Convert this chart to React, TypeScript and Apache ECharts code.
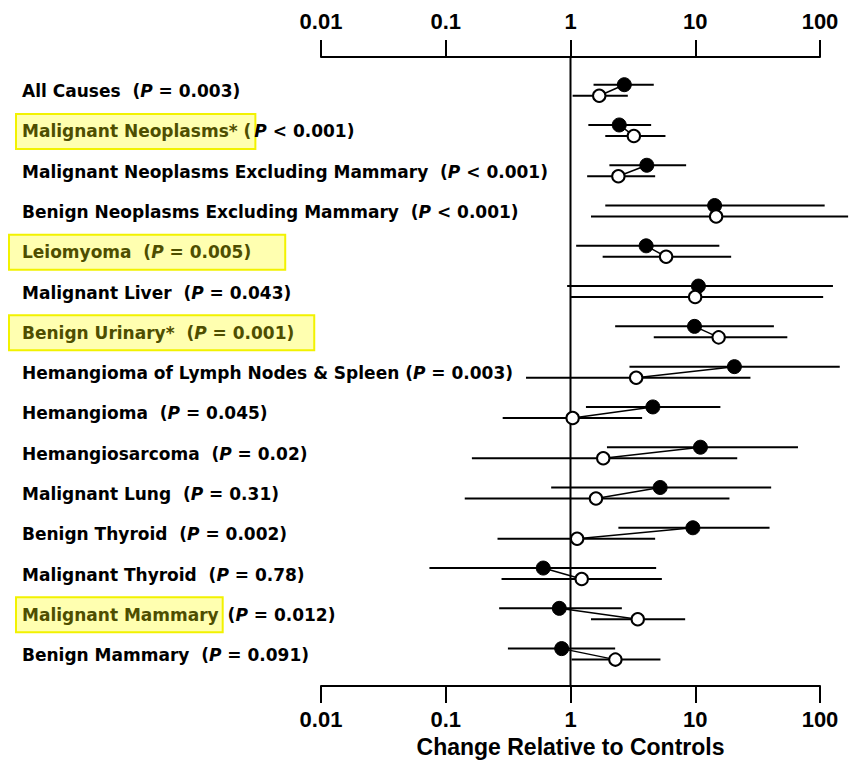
import React, { useEffect, useRef } from 'react';
import * as echarts from 'echarts';

const categories = [
  'All Causes',
  'Malignant Neoplasms*',
  'Malignant Neoplasms Excluding Mammary',
  'Benign Neoplasms Excluding Mammary',
  'Leiomyoma',
  'Malignant Liver',
  'Benign Urinary*',
  'Hemangioma of Lymph Nodes & Spleen',
  'Hemangioma',
  'Hemangiosarcoma',
  'Malignant Lung',
  'Benign Thyroid',
  'Malignant Thyroid',
  'Malignant Mammary',
  'Benign Mammary',
];
const pValues = ['= 0.003', '< 0.001', '< 0.001', '< 0.001', '= 0.005', '= 0.043', '= 0.001', '= 0.003', '= 0.045', '= 0.02', '= 0.31', '= 0.002', '= 0.78', '= 0.012', '= 0.091'];
// highlight: 0 none, 1 name only, 2 whole label
const highlight = [0, 1, 0, 0, 2, 0, 2, 0, 0, 0, 0, 0, 0, 1, 0];

const filledEst = [2.70, 2.46, 4.09, 14.3, 4.04, 10.6, 9.86, 20.6, 4.57, 11.0, 5.23, 9.57, 0.605, 0.813, 0.85];
const filledLow = [1.53, 1.39, 2.05, 1.90, 1.11, 0.94, 2.28, 2.97, 1.33, 1.96, 0.70, 2.42, 0.074, 0.268, 0.315];
const filledHigh = [4.65, 4.43, 8.45, 109, 15.6, 127, 42.7, 144, 15.9, 66.6, 40.6, 39.4, 4.86, 2.58, 2.28];
const openEst = [1.70, 3.22, 2.42, 14.7, 5.84, 9.98, 15.4, 3.36, 1.04, 1.83, 1.60, 1.13, 1.23, 3.46, 2.29];
const openLow = [1.04, 1.90, 1.36, 1.46, 1.81, 1.01, 4.65, 0.44, 0.286, 0.162, 0.142, 0.26, 0.28, 1.46, 1.02];
const openHigh = [2.88, 5.77, 4.77, 168, 19.4, 106, 54.7, 27.7, 3.75, 21.7, 18.8, 4.77, 5.40, 8.30, 5.26];

const axisTitle = 'Change Relative to Controls';

const Y_MIN = -0.824;
const Y_MAX = 14.794;

const LABEL_FONT = 'DejaVu Sans';
const HL_FILL = '#ffffb0';
const HL_BORDER = '#f2f200';
const HL_TEXT = '#4e4e00';

export default function App() {
  const ref = useRef<HTMLDivElement>(null);

  useEffect(() => {
    if (!ref.current) return;
    const chart = echarts.init(ref.current, undefined, { renderer: 'svg' });

    const rowData = categories.map((_, i) => [i, filledEst[i], filledLow[i], filledHigh[i], openEst[i], openLow[i], openHigh[i]]);
    const labelData = categories.map((_, i) => [1, i]);

    const fmt = (v: number) => String(+Number(v).toPrecision(3));

    const xCommon: any = {
      type: 'log',
      logBase: 10,
      min: 0.01,
      max: 100,
      axisLine: { show: true, onZero: false, lineStyle: { color: '#000', width: 2 } },
      axisTick: { show: true, length: 17, lineStyle: { color: '#000', width: 2 } },
      splitLine: { show: false },
      minorTick: { show: false },
      minorSplitLine: { show: false },
      axisLabel: {
        formatter: fmt,
        fontFamily: 'Liberation Sans',
        fontWeight: 'bold',
        fontSize: 22,
        color: '#000',
      },
    };

    const baseRich = (color: string) => ({
      n: { fontFamily: LABEL_FONT, fontWeight: 'bold', fontSize: 17, fill: color },
      pi: { fontFamily: LABEL_FONT, fontWeight: 'bold', fontStyle: 'italic', fontSize: 17, fill: color },
      hl: {
        fontFamily: LABEL_FONT, fontWeight: 'bold', fontSize: 17, fill: HL_TEXT,
        backgroundColor: HL_FILL, borderColor: HL_BORDER, borderWidth: 2, padding: [8, 3, 8, 5],
      },
    });

    const option: any = {
      animation: false,
      backgroundColor: '#fff',
      grid: { left: 321, right: 36, top: 57, bottom: 71, containLabel: false },
      xAxis: [
        { ...xCommon, position: 'top', axisLabel: { ...xCommon.axisLabel, margin: 25 } },
        {
          ...xCommon,
          position: 'bottom',
          axisLabel: { ...xCommon.axisLabel, margin: 22 },
          name: axisTitle,
          nameLocation: 'middle',
          nameGap: 44,
          nameTextStyle: { fontFamily: 'Liberation Sans', fontWeight: 'bold', fontSize: 23, color: '#000' },
        },
      ],
      yAxis: { type: 'value', min: Y_MIN, max: Y_MAX, inverse: true, show: false },
      series: [
        {
          type: 'custom',
          xAxisIndex: 0,
          clip: false,
          silent: true,
          data: [[1, Y_MIN]],
          encode: { x: 0, y: 1 },
          renderItem: (params: any, api: any) => {
            const a = api.coord([1, Y_MIN]);
            const b = api.coord([1, Y_MAX]);
            return {
              type: 'line',
              shape: { x1: a[0], y1: a[1], x2: b[0], y2: b[1] },
              style: { stroke: '#000', lineWidth: 2 },
            };
          },
        },
        {
          type: 'custom',
          xAxisIndex: 0,
          clip: false,
          silent: true,
          data: rowData,
          encode: { x: [1, 2, 3, 4, 5, 6], y: 0 },
          renderItem: (params: any, api: any) => {
            const row = api.value(0);
            const yc = api.coord([1, row])[1];
            const yF = yc - 5.5;
            const yO = yc + 5.5;
            const X = (v: number) => api.coord([v, row])[0];
            const fe = X(api.value(1)), fl = X(api.value(2)), fh = X(api.value(3));
            const oe = X(api.value(4)), ol = X(api.value(5)), oh = X(api.value(6));
            return {
              type: 'group',
              children: [
                { type: 'line', shape: { x1: fl, y1: yF, x2: fh, y2: yF }, style: { stroke: '#000', lineWidth: 2 } },
                { type: 'line', shape: { x1: ol, y1: yO, x2: oh, y2: yO }, style: { stroke: '#000', lineWidth: 2 } },
                { type: 'line', shape: { x1: fe, y1: yF, x2: oe, y2: yO }, style: { stroke: '#000', lineWidth: 1.5 } },
                { type: 'circle', shape: { cx: fe, cy: yF, r: 7 }, style: { fill: '#000', stroke: '#000', lineWidth: 1 } },
                { type: 'circle', shape: { cx: oe, cy: yO, r: 6.2 }, style: { fill: '#fff', stroke: '#000', lineWidth: 2 } },
              ],
            };
          },
        },
        {
          type: 'custom',
          xAxisIndex: 0,
          clip: false,
          silent: true,
          data: labelData,
          encode: { x: 0, y: 1 },
          renderItem: (params: any, api: any) => {
            const row = api.value(1);
            const yc = api.coord([1, row])[1] + 1;
            const name = categories[row];
            const p = pValues[row];
            const h = highlight[row];
            let text = '';
            let style: any = {};
            let x = 22;
            if (h === 1) {
              if (name === 'Malignant Mammary') {
                text = `{hl|${name}}{n| (}{pi|P}{n| ${p})}`;
              } else {
                text = `{hl|${name} (}{pi|P}{n| ${p})}`;
              }
              x = 22 - 5;
              style = { rich: baseRich('#000') };
            } else if (h === 2) {
              text = `{n|${name}  (}{pi|P}{n| ${p})}`;
              x = 22 - 12;
              style = {
                rich: baseRich(HL_TEXT),
                backgroundColor: HL_FILL,
                borderColor: HL_BORDER,
                borderWidth: 2,
                padding: [8, name === 'Leiomyoma' ? 33 : 19, 8, 12],
              };
            } else {
              const sep = name.startsWith('Hemangioma of') ? ' (' : '  (';
              text = `{n|${name}${sep}}{pi|P}{n| ${p})}`;
              style = { rich: baseRich('#000') };
            }
            return {
              type: 'text',
              x,
              y: yc,
              style: {
                text,
                fontFamily: LABEL_FONT,
                fontWeight: 'bold',
                fontSize: 17,
                fill: '#000',
                align: 'left',
                verticalAlign: 'middle',
                ...style,
              },
            };
          },
        },
      ],
    };

    chart.setOption(option);
    return () => chart.dispose();
  }, []);

  return <div ref={ref} style={{ position: 'fixed', left: 0, top: 0, width: 856, height: 763 }} />;
}
